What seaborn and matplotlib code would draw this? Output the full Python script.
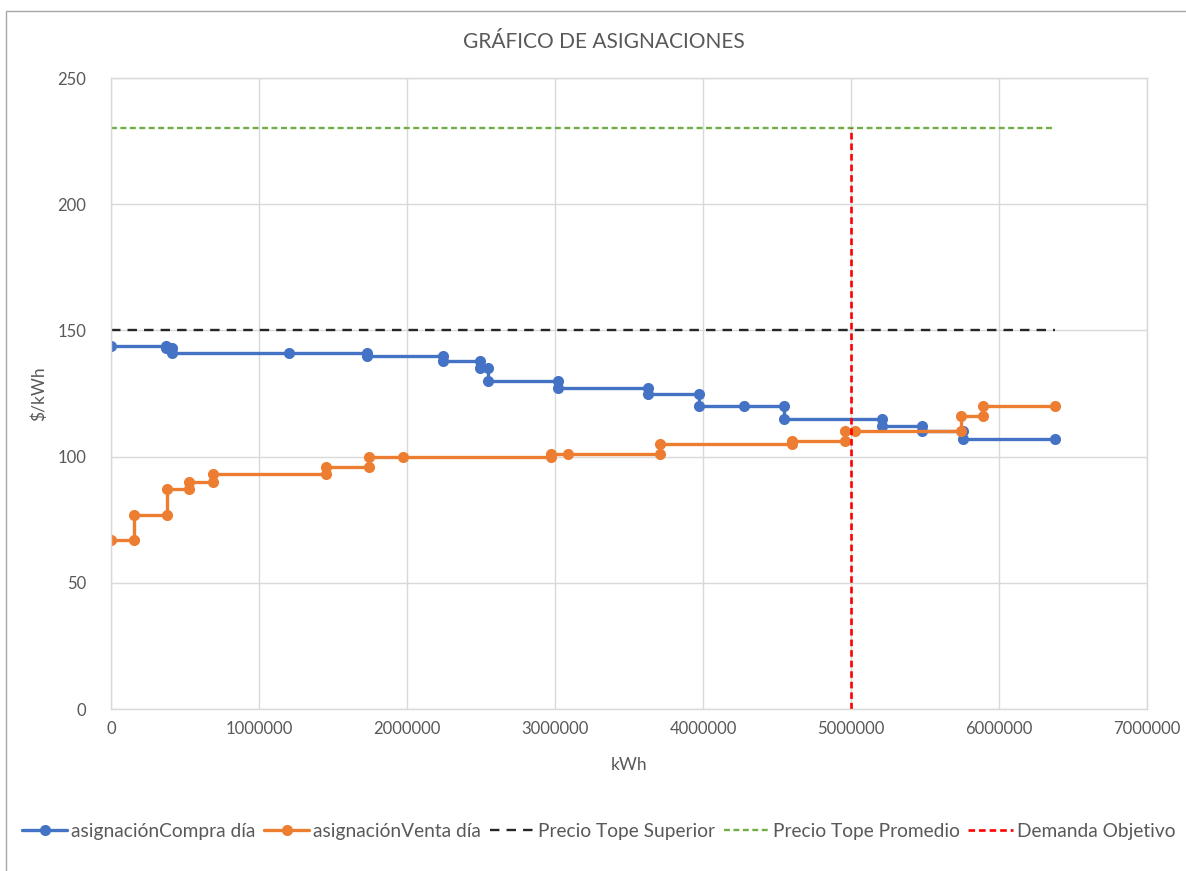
import numpy as np
import pandas as pd
import matplotlib
matplotlib.use("Agg")
import matplotlib.pyplot as plt
import seaborn as sns
from matplotlib.patches import Rectangle
from matplotlib.ticker import FuncFormatter

# compra (buy) step curve
compra_x = [0, 370000, 370000, 415000, 415000, 1200000, 1730000, 1730000, 2240000, 2240000,
            2490000, 2490000, 2550000, 2550000, 3020000, 3020000, 3630000, 3630000, 3970000, 3970000,
            4280000, 4550000, 4550000, 5210000, 5210000, 5480000, 5480000, 5760000, 5760000, 6380000]
compra_y = [144, 144, 143, 143, 141, 141, 141, 140, 140, 138,
            138, 135, 135, 130, 130, 127, 127, 125, 125, 120,
            120, 120, 115, 115, 112, 112, 110, 110, 107, 107]

# venta (sell) step curve
venta_x = [0, 155000, 155000, 380000, 380000, 530000, 530000, 690000, 690000, 1450000,
           1450000, 1740000, 1740000, 1970000, 2970000, 2970000, 3090000, 3710000, 3710000, 4600000,
           4600000, 4960000, 4960000, 5030000, 5740000, 5740000, 5890000, 5890000, 6380000]
venta_y = [67, 67, 77, 77, 87, 87, 90, 90, 93, 93,
           96, 96, 100, 100, 100, 101, 101, 101, 105, 105,
           106, 106, 110, 110, 110, 116, 116, 120, 120]

tope_superior = 150
tope_promedio = 230
demanda_objetivo = 5000000
x_fin = 6380000

x_ticks = [0, 1000000, 2000000, 3000000, 4000000, 5000000, 6000000, 7000000]
y_ticks = [0, 50, 100, 150, 200, 250]

df_compra = pd.DataFrame({"kWh": compra_x, "precio": compra_y})
df_venta = pd.DataFrame({"kWh": venta_x, "precio": venta_y})

sns.set_style("white")
plt.rcParams['font.family'] = ['Lato', 'DejaVu Sans']
gris = "#595959"

fig = plt.figure(figsize=(11.86, 8.71), dpi=100)
# chart border, only top and left edges fall inside the picture
fig.patches.append(Rectangle((6 / 1186, -0.05), 1.2, 1 - 11 / 871 + 0.05,
                             transform=fig.transFigure, fill=False, edgecolor="#a6a6a6", lw=1))
ax = fig.add_axes([111 / 1186, 1 - 709 / 871, 1036 / 1186, 631 / 871])

sns.lineplot(data=df_compra, x="kWh", y="precio", sort=False, estimator=None, ax=ax,
             color="#4472C4", lw=2.4, marker="o", markersize=8, markeredgewidth=0,
             label="asignaciónCompra día")
sns.lineplot(data=df_venta, x="kWh", y="precio", sort=False, estimator=None, ax=ax,
             color="#ED7D31", lw=2.4, marker="o", markersize=8, markeredgewidth=0,
             label="asignaciónVenta día")
ax.plot([0, x_fin], [tope_superior, tope_superior], color="#262626", lw=1.7,
        dashes=(4, 3), label="Precio Tope Superior")
ax.plot([0, x_fin], [tope_promedio, tope_promedio], color="#70AD47", lw=1.7,
        dashes=(2.5, 1.5), label="Precio Tope Promedio")
ax.plot([demanda_objetivo, demanda_objetivo], [0, tope_promedio], color="#FF0000", lw=1.9,
        dashes=(2.5, 1.5), label="Demanda Objetivo")

ax.set_xlim(0, 7000000)
ax.set_ylim(0, 250)
ax.set_xticks(x_ticks)
ax.set_yticks(y_ticks)
ax.xaxis.set_major_formatter(FuncFormatter(lambda v, p: f"{int(v)}"))
ax.grid(True, color="#d9d9d9", lw=1)
ax.set_axisbelow(True)
for s in ax.spines.values():
    s.set_color("#d9d9d9")
    s.set_linewidth(1)
ax.tick_params(axis="both", length=0, labelsize=12, labelcolor=gris)
ax.tick_params(axis="y", pad=18)
ax.tick_params(axis="x", pad=9)

ax.set_xlabel("kWh", fontsize=12.5, color=gris, labelpad=14)
ax.set_ylabel("$/kWh", fontsize=12.5, color=gris, labelpad=7)
fig.text(604 / 1186, 1 - 42 / 871, "GRÁFICO DE ASIGNACIONES", ha="center", va="center",
         fontsize=15, color=gris)

leg = ax.legend(loc="center", bbox_to_anchor=(599 / 1186, 1 - 831 / 871), bbox_transform=fig.transFigure,
                ncol=5, frameon=False, fontsize=13.8, handlelength=2.35, handletextpad=0.2,
                columnspacing=0.45, labelcolor=gris, borderaxespad=0, borderpad=0, numpoints=1)

plt.savefig("out.png", dpi=100)
